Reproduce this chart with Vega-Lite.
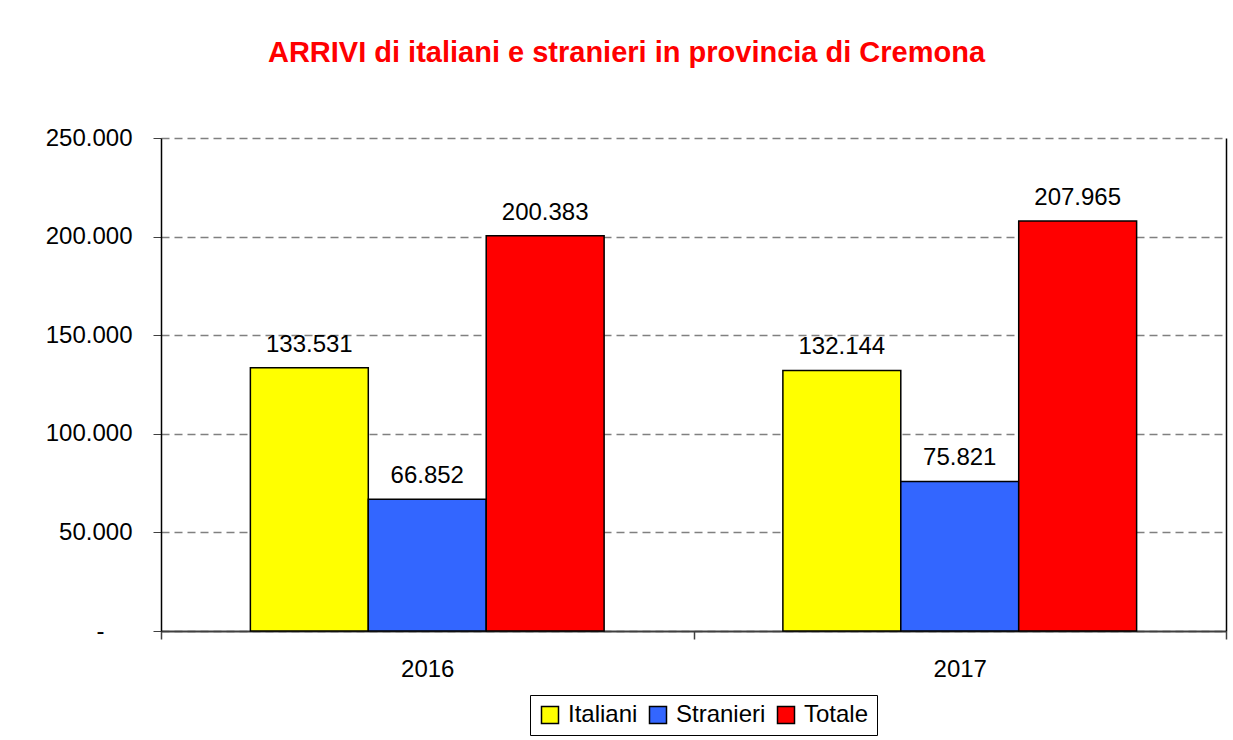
{
  "$schema": "https://vega.github.io/schema/vega-lite/v6.json",
  "width": 1065,
  "height": 493,
  "autosize": {"type": "none"},
  "padding": {"left": 161, "top": 138, "right": 7, "bottom": 109},
  "background": "white",
  "config": {
    "locale": {"number": {"decimal": ",", "thousands": ".", "grouping": [3], "currency": ["€", ""]}},
    "font": "Liberation Sans",
    "view": {"stroke": null}
  },
  "title": {
    "text": "ARRIVI di italiani e stranieri in provincia di Cremona",
    "color": "#FF0000",
    "fontSize": 29,
    "fontWeight": "bold",
    "font": "Liberation Sans",
    "anchor": "middle",
    "frame": "group",
    "dx": -67,
    "baseline": "alphabetic",
    "offset": 35
  },
  "data": {
    "values": [
      {"anno": "2016", "serie": "Italiani", "valore": 133531},
      {"anno": "2016", "serie": "Stranieri", "valore": 66852},
      {"anno": "2016", "serie": "Totale", "valore": 200383},
      {"anno": "2017", "serie": "Italiani", "valore": 132144},
      {"anno": "2017", "serie": "Stranieri", "valore": 75821},
      {"anno": "2017", "serie": "Totale", "valore": 207965}
    ]
  },
  "layer": [
    {
      "mark": {"type": "bar", "stroke": "black", "strokeWidth": 1.5},
      "encoding": {
        "x": {
          "field": "anno",
          "type": "nominal",
          "scale": {"paddingInner": 0, "paddingOuter": 0},
          "axis": {
            "orient": "bottom",
            "title": null,
            "tickBand": "extent",
            "tickSize": 8,
            "tickColor": "#404040",
            "tickWidth": 1.5,
            "domainColor": "#404040",
            "domainWidth": 2,
            "labelFontSize": 24,
            "labelFont": "Liberation Sans",
            "labelColor": "black",
            "labelPadding": 18,
            "labelAngle": 0,
            "grid": false
          }
        },
        "xOffset": {
          "field": "serie",
          "type": "nominal",
          "scale": {"domain": ["Italiani", "Stranieri", "Totale"], "paddingInner": 0, "paddingOuter": 0.758}
        },
        "y": {
          "field": "valore",
          "type": "quantitative",
          "scale": {"domain": [0, 250000], "nice": false},
          "axis": {
            "orient": "left",
            "title": null,
            "values": [0, 50000, 100000, 150000, 200000, 250000],
            "format": ",.0f",
            "labelExpr": "datum.value === 0 ? '-' : datum.label",
            "labelFontSize": 24,
            "labelFont": "Liberation Sans",
            "labelColor": "black",
            "labelPadding": {"condition": {"test": "datum.value === 0", "value": 49}, "value": 21},
            "tickSize": 8,
            "tickColor": "#404040",
            "domainColor": "black",
            "domainWidth": 1.5,
            "grid": true,
            "gridColor": "#808080",
            "gridDash": [8, 5],
            "gridWidth": 1.5
          }
        },
        "color": {
          "field": "serie",
          "type": "nominal",
          "scale": {"domain": ["Italiani", "Stranieri", "Totale"], "range": ["#FFFF00", "#3366FF", "#FF0000"]},
          "legend": {
            "title": null,
            "orient": "none",
            "legendX": 369,
            "legendY": 557,
            "direction": "horizontal",
            "strokeColor": "black",
            "fillColor": "white",
            "padding": 8,
            "symbolType": "square",
            "symbolSize": 289,
            "symbolStrokeColor": "black",
            "symbolStrokeWidth": 1.5,
            "symbolOpacity": 1,
            "labelFontSize": 24,
            "labelFont": "Liberation Sans",
            "labelColor": "black",
            "labelOffset": 6,
            "columnPadding": 8
          }
        }
      }
    },
    {
      "mark": {"type": "text", "fontSize": 24, "font": "Liberation Sans", "color": "black", "baseline": "alphabetic", "dy": -16},
      "encoding": {
        "x": {"field": "anno", "type": "nominal"},
        "xOffset": {"field": "serie", "type": "nominal"},
        "y": {
          "field": "valore",
          "type": "quantitative",
          "axis": {"orient": "right", "title": null, "labels": false, "ticks": false, "grid": false, "domainColor": "black", "domainWidth": 1.5}
        },
        "text": {"field": "valore", "type": "quantitative", "format": ",.0f"}
      }
    }
  ],
  "resolve": {"axis": {"y": "independent"}}
}
